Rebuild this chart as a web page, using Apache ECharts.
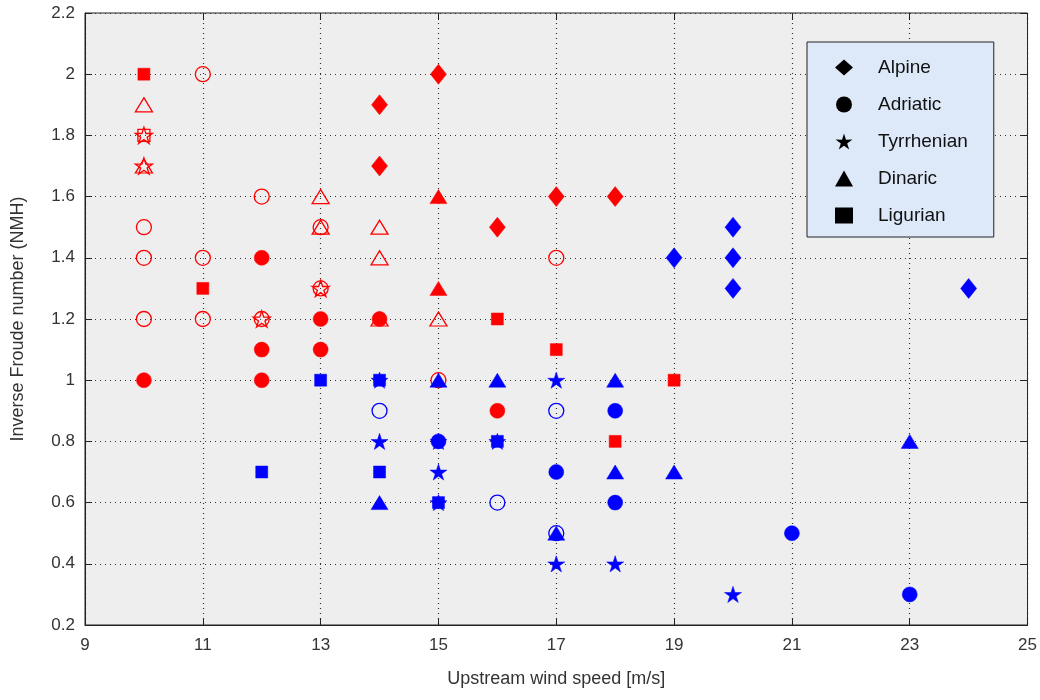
<!DOCTYPE html>
<html>
<head>
<meta charset="utf-8">
<script src="https://cdn.jsdelivr.net/npm/echarts@6/dist/echarts.min.js"></script>
<style>
  html, body { margin: 0; padding: 0; background: #fff; }
  #chart { width: 1040px; height: 700px; }
</style>
</head>
<body>
<div id="chart"></div>
<script>
// red points (filled / hollow by marker)
var redAlpine = [[14,1.9],[14,1.7],[15,2.0],[16,1.5],[17,1.6],[18,1.6]];
var redAdriaticFilled = [[10,1.0],[12,1.4],[12,1.1],[12,1.0],[13,1.2],[13,1.1],[14,1.2],[16,0.9]];
var redAdriaticHollow = [[11,2.0],[10,1.5],[10,1.4],[10,1.2],[11,1.4],[11,1.2],[12,1.6],[12,1.2],[13,1.5],[13,1.3],[15,1.0],[17,1.4]];
var redTyrrhenianHollow = [[10,1.8],[10,1.7],[12,1.2],[13,1.3]];
var redDinaricFilled = [[15,1.6],[15,1.3]];
var redDinaricHollow = [[10,1.9],[10,1.7],[13,1.6],[13,1.5],[14,1.5],[14,1.4],[14,1.2],[15,1.2]];
var redLigurianFilled = [[10,2.0],[11,1.3],[16,1.2],[17,1.1],[19,1.0],[18,0.8]];
var redLigurianHollow = [[10,1.8]];

// blue points
var blueAlpine = [[19,1.4],[20,1.5],[20,1.4],[20,1.3],[24,1.3]];
var blueTyrrhenian = [[17,1.0],[14,0.8],[15,0.7],[17,0.4],[18,0.4],[20,0.3],[14,1.0],[16,0.8],[15,0.6],[15,0.8]];
var blueAdriaticFilled = [[15,0.8],[17,0.7],[18,0.9],[18,0.6],[21,0.5],[23,0.3]];
var blueAdriaticHollow = [[14,0.9],[17,0.9],[16,0.6],[17,0.5]];
var blueDinaric = [[15,1.0],[16,1.0],[18,1.0],[14,0.6],[18,0.7],[19,0.7],[23,0.8],[17,0.5]];
var blueLigurian = [[13,1.0],[14,1.0],[12,0.7],[14,0.7],[15,0.6],[16,0.8]];

var xTicks = [9, 25, 2];
var yTicks = [0.2, 2.2, 0.2];

var STAR = 'path://M50 0 L61.17 34.63 L97.55 34.55 L68.07 55.87 L79.39 90.45 L50 69 L20.61 90.45 L31.93 55.87 L2.45 34.55 L38.83 34.63 Z';
var FONT = 'Liberation Sans';

var shapes = {
  Alpine: { symbol: 'diamond', size: [16, 20] },
  Adriatic: { symbol: 'circle', size: 15 },
  Tyrrhenian: { symbol: STAR, size: 17 },
  Dinaric: { symbol: 'triangle', size: [17, 14] },
  Ligurian: { symbol: 'rect', size: 12 }
};

function makeSeries(name, data, color, filled) {
  var s = shapes[name];
  return {
    name: name,
    type: 'scatter',
    data: data,
    symbol: s.symbol,
    symbolSize: s.size,
    symbolKeepAspect: true,
    itemStyle: filled
      ? { color: color, borderColor: color, borderWidth: 0.5, opacity: 1 }
      : { color: 'rgba(0,0,0,0)', borderColor: color, borderWidth: 1.3, opacity: 1 },
    emphasis: { disabled: true },
    animation: false
  };
}

var RED = '#ff0000', BLUE = '#0000ff';

// mirrored axes give the box ticks on top and right
function tickAxis(pos, range) {
  return {
    type: 'value', position: pos,
    min: range[0], max: range[1], interval: range[2],
    axisLine: { show: false },
    axisTick: { show: true, inside: true, length: 7, lineStyle: { color: '#222' } },
    axisLabel: { show: false },
    splitLine: { show: false }
  };
}

var chart = echarts.init(document.getElementById('chart'));
chart.setOption({
  backgroundColor: '#fff',
  grid: {
    left: 85, right: 10, top: 13, bottom: 75,
    show: true,
    backgroundColor: '#eeeeee',
    borderColor: '#222',
    borderWidth: 1
  },
  xAxis: [{
    type: 'value',
    min: xTicks[0], max: xTicks[1], interval: xTicks[2],
    name: 'Upstream wind speed [m/s]',
    nameLocation: 'middle',
    nameGap: 45,
    nameTextStyle: { fontFamily: FONT, fontSize: 18, color: '#333' },
    axisLine: { show: true, lineStyle: { color: '#222' } },
    axisTick: { show: true, inside: true, length: 7, lineStyle: { color: '#222' } },
    axisLabel: { fontFamily: FONT, fontSize: 17, color: '#333', margin: 12 },
    splitLine: { show: true, lineStyle: { type: [1, 4], color: '#333', width: 1.2 } }
  }, tickAxis('top', xTicks)],
  yAxis: [{
    type: 'value',
    min: yTicks[0], max: yTicks[1], interval: yTicks[2],
    name: 'Inverse Froude number (NMH)',
    nameLocation: 'middle',
    nameGap: 58,
    nameTextStyle: { fontFamily: FONT, fontSize: 18, color: '#333' },
    axisLine: { show: true, lineStyle: { color: '#222' } },
    axisTick: { show: true, inside: true, length: 7, lineStyle: { color: '#222' } },
    axisLabel: {
      fontFamily: FONT, fontSize: 17, color: '#333', margin: 10,
      formatter: function (v) { return String(Math.round(v * 10) / 10); }
    },
    splitLine: { show: true, lineStyle: { type: [1, 4], color: '#333', width: 1.2 } }
  }, tickAxis('right', yTicks)],
  legend: {
    orient: 'vertical',
    left: 807, top: 42,
    padding: [16, 26, 12, 28],
    itemGap: 18,
    itemWidth: 18, itemHeight: 16,
    backgroundColor: '#dde9f8',
    borderColor: '#222',
    borderWidth: 1,
    borderRadius: 0,
    selectedMode: false,
    textStyle: { fontFamily: FONT, fontSize: 19, color: '#111', padding: [0, 0, 0, 20] },
    data: [
      { name: 'Alpine', icon: 'diamond', itemStyle: { color: '#000', borderWidth: 0 } },
      { name: 'Adriatic', icon: 'circle', itemStyle: { color: '#000', borderWidth: 0 } },
      { name: 'Tyrrhenian', icon: STAR, itemStyle: { color: '#000', borderWidth: 0 } },
      { name: 'Dinaric', icon: 'triangle', itemStyle: { color: '#000', borderWidth: 0 } },
      { name: 'Ligurian', icon: 'rect', itemStyle: { color: '#000', borderWidth: 0 } }
    ]
  },
  series: [
    makeSeries('Adriatic', redAdriaticHollow, RED, false),
    makeSeries('Dinaric', redDinaricHollow, RED, false),
    makeSeries('Ligurian', redLigurianHollow, RED, false),
    makeSeries('Tyrrhenian', redTyrrhenianHollow, RED, false),
    makeSeries('Adriatic', redAdriaticFilled, RED, true),
    makeSeries('Dinaric', redDinaricFilled, RED, true),
    makeSeries('Ligurian', redLigurianFilled, RED, true),
    makeSeries('Alpine', redAlpine, RED, true),
    makeSeries('Alpine', blueAlpine, BLUE, true),
    makeSeries('Tyrrhenian', blueTyrrhenian, BLUE, true),
    makeSeries('Adriatic', blueAdriaticFilled, BLUE, true),
    makeSeries('Dinaric', blueDinaric, BLUE, true),
    makeSeries('Ligurian', blueLigurian, BLUE, true),
    makeSeries('Adriatic', blueAdriaticHollow, BLUE, false)
  ]
});
</script>
</body>
</html>
